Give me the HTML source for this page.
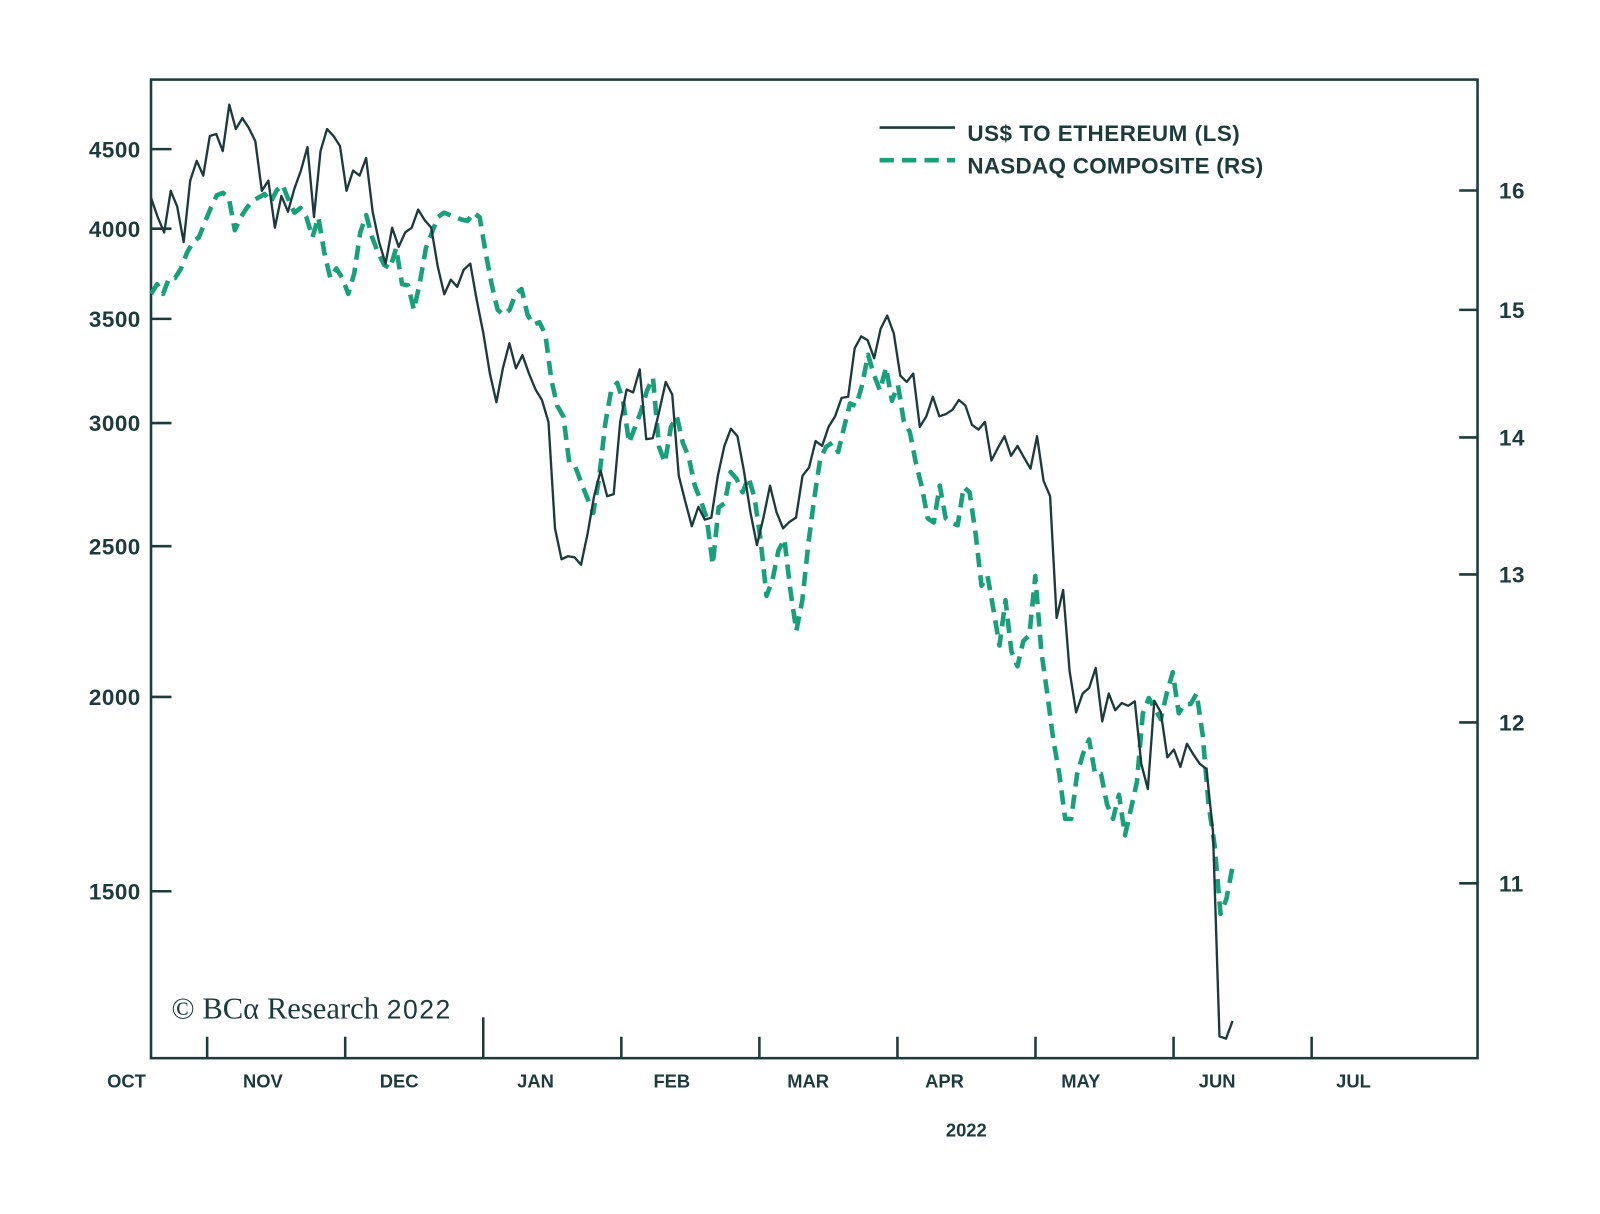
<!DOCTYPE html>
<html><head><meta charset="utf-8"><style>
body{margin:0;background:#fff;}
svg{display:block;font-family:"Liberation Sans",sans-serif;}
.tk{font-size:22px;font-weight:bold;fill:#1d3a3c;letter-spacing:0.5px;}
.mo{font-size:18px;font-weight:bold;fill:#1d3a3c;}
</style></head><body>
<svg id="chart" width="1600" height="1214" viewBox="0 0 1600 1214">
<g transform="scale(1.0204)">
<rect x="148" y="78" width="1300" height="959" fill="none" stroke="#1d3a3c" stroke-width="2.5"/>
<g id="axes"></g>
<g id="series"></g>
<text x="168" y="998" font-family="Liberation Serif,serif" font-size="30" fill="#1d3a3c">© BCα Research <tspan font-family="Liberation Sans,sans-serif" font-size="26" letter-spacing="1.5">2022</tspan></text>
<text x="947" y="1114" text-anchor="middle" class="mo" font-size="19">2022</text>
<g>
<line x1="862" y1="125" x2="936" y2="125" stroke="#1d3a3c" stroke-width="2.5"/>
<text x="948" y="138" font-size="22" font-weight="bold" fill="#1d3a3c" textLength="267">US$ TO ETHEREUM (LS)</text>
<line x1="862" y1="157" x2="936" y2="157" stroke="#17a07a" stroke-width="4.5" stroke-dasharray="14,8"/>
<text x="948" y="170" font-size="22" font-weight="bold" fill="#1d3a3c" textLength="290">NASDAQ COMPOSITE (RS)</text>
</g>
</g>
</svg>
<script>
const leftTicks=[4500,4000,3500,3000,2500,2000,1500];
const rightTicks=[16,15,14,13,12,11];
const months=["OCT","NOV","DEC","JAN","FEB","MAR","APR","MAY","JUN","JUL"];
const startDay=18.8, endDay=254.3;
const eth=[4186,4070,3978,4231,4134,3922,4295,4423,4327,4588,4602,4487,4806,4636,4711,4643,4554,4231,4295,4006,4199,4102,4244,4359,4514,4070,4487,4636,4588,4520,4231,4359,4327,4442,4102,3922,3798,4006,3894,3978,4006,4115,4051,4006,3782,3630,3709,3670,3765,3798,3596,3426,3228,3094,3253,3376,3253,3317,3228,3153,3104,3005,2567,2452,2463,2459,2432,2546,2692,2796,2692,2700,3005,3153,3139,3248,2929,2933,3054,3188,3129,2775,2671,2575,2650,2600,2608,2775,2900,2975,2942,2796,2629,2504,2608,2734,2629,2567,2592,2608,2775,2809,2921,2900,2983,3030,3114,3119,3351,3411,3391,3302,3450,3517,3426,3218,3188,3228,2983,3030,3119,3030,3040,3059,3104,3079,2992,2971,3005,2838,2892,2942,2858,2900,2850,2804,2942,2754,2692,2248,2343,2078,1955,2010,2027,2088,1929,2010,1961,1982,1974,1987,1811,1745,1989,1955,1829,1850,1803,1866,1837,1811,1798,1639,1210,1206,1238];
const nasdaq=[15.13,15.21,15.13,15.26,15.26,15.34,15.47,15.56,15.60,15.73,15.85,15.96,15.98,15.94,15.66,15.77,15.85,15.91,15.94,15.97,15.90,16.00,16.05,15.92,15.81,15.85,15.77,15.60,15.77,15.47,15.26,15.34,15.26,15.13,15.30,15.64,15.79,15.60,15.47,15.37,15.34,15.51,15.21,15.20,15.00,15.23,15.51,15.64,15.77,15.81,15.79,15.77,15.75,15.74,15.81,15.77,15.47,15.21,15.00,14.96,15.00,15.13,15.17,14.96,14.88,14.90,14.80,14.44,14.24,14.16,13.81,13.78,13.66,13.55,13.44,13.70,14.10,14.36,14.42,14.28,13.96,14.08,14.20,14.36,14.46,13.93,13.81,14.08,14.16,13.96,13.85,13.64,13.53,13.40,13.07,13.48,13.51,13.74,13.69,13.59,13.70,13.55,13.25,12.85,12.96,13.17,13.25,12.89,12.61,12.82,13.21,13.55,13.84,13.93,13.96,13.89,14.08,14.26,14.24,14.40,14.64,14.48,14.36,14.54,14.28,14.40,14.12,14.04,13.81,13.63,13.40,13.37,13.64,13.40,13.37,13.35,13.63,13.59,13.29,12.92,12.99,12.75,12.51,12.82,12.47,12.37,12.54,12.58,12.99,12.47,12.19,11.89,11.67,11.39,11.39,11.67,11.80,11.89,11.67,11.67,11.48,11.39,11.54,11.29,11.45,11.62,12.06,12.16,12.09,12.02,12.19,12.33,12.06,12.12,12.12,12.19,11.92,11.48,11.23,10.82,10.91,11.10];

const NS="http://www.w3.org/2000/svg";
const xOf=d=>63.5+4.5*d;
const xMonth=i=>67.7+135.3*i;
const xLabel=i=>124+133.6*i;
const yL=v=>683-662*Math.log(v/2000);
const yR=v=>708-1812*Math.log(v/12);
const axes=document.getElementById('axes'), ser=document.getElementById('series');
function mk(tag,attrs,parent,txt){const e=document.createElementNS(NS,tag);for(const k in attrs)e.setAttribute(k,attrs[k]);if(txt!==undefined)e.textContent=txt;parent.appendChild(e);return e;}
leftTicks.forEach(v=>{const y=yL(v);
 const l=mk('line',{x1:148,y1:y,x2:168,y2:y,stroke:'#1d3a3c','stroke-width':2.5},axes);
 
 
 const t=mk('text',{x:138,y:y+8,'text-anchor':'end',class:'tk'},axes,String(v));
 
 });
rightTicks.forEach(v=>{const y=yR(v);
 const l=mk('line',{x1:1430,y1:y,x2:1448,y2:y,stroke:'#1d3a3c','stroke-width':2.5},axes);
 
 
 const t=mk('text',{x:1469,y:y+8,class:'tk'},axes,String(v));
 
 });
months.forEach((m,i)=>{const x=xMonth(i);
 if(x>148){const l=mk('line',{x1:x,y1:1037,x2:x,y2:m==='JAN'?997:1016,stroke:'#1d3a3c','stroke-width':2.5},axes);
 
 }
 const t=mk('text',{x:xLabel(i),y:1066,'text-anchor':'middle',class:'mo'},axes,m);
 
 });
function path(vals,yf){const n=vals.length;return vals.map((v,i)=>(i?'L':'M')+xOf(startDay+(endDay-startDay)*i/(n-1)).toFixed(1)+','+yf(v).toFixed(1)).join(' ');}
const pn=mk('path',{d:path(nasdaq,yR),fill:'none',stroke:'#17a07a','stroke-width':4.5,'stroke-dasharray':'14,8','stroke-linejoin':'round'},ser);


const pe=mk('path',{d:path(eth,yL),fill:'none',stroke:'#1d3a3c','stroke-width':2.3,'stroke-linejoin':'round'},ser);


</script>
</body></html>
